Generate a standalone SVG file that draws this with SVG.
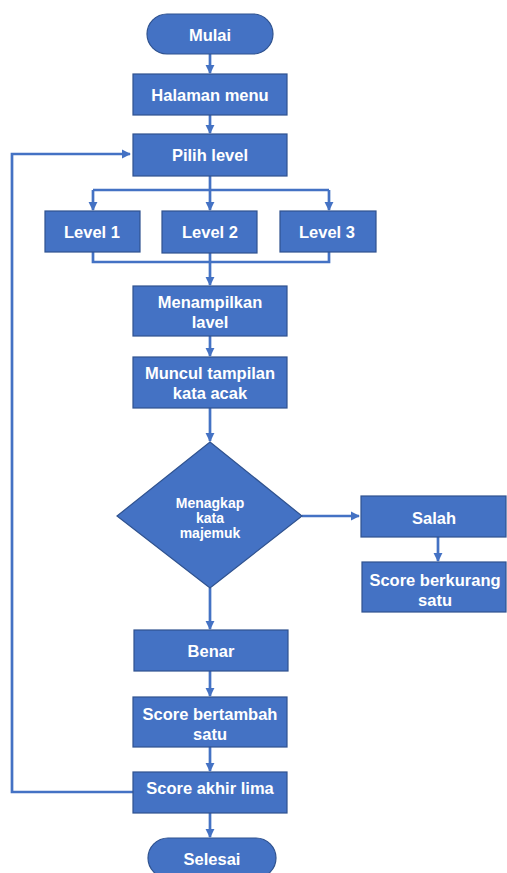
<svg xmlns="http://www.w3.org/2000/svg" width="507" height="873" viewBox="0 0 507 873">
<style>
.n{fill:#4472C4;stroke:#2F528F;stroke-width:1.2}
.t{fill:#fff;font-family:"Liberation Sans",Arial,sans-serif;font-weight:bold;font-size:16.5px;text-anchor:middle;dominant-baseline:central}
.s{font-size:14px}
.c{fill:none;stroke:#4472C4;stroke-width:2.7}
</style>
<defs>
<marker id="a" viewBox="0 0 10 10" refX="9" refY="5" markerWidth="3.4" markerHeight="3.4" orient="auto" markerUnits="strokeWidth">
<path d="M0,0L10,5L0,10z" fill="#4472C4"/>
</marker>
</defs>
<rect width="507" height="873" fill="#fff"/>
<g id="connectors">
<path class="c" d="M210,54V73" marker-end="url(#a)"/>
<path class="c" d="M210,115V133" marker-end="url(#a)"/>
<path class="c" d="M210,176V190"/>
<path class="c" d="M93,190H329"/>
<path class="c" d="M93,190V210" marker-end="url(#a)"/>
<path class="c" d="M210,190V210" marker-end="url(#a)"/>
<path class="c" d="M329,190V210" marker-end="url(#a)"/>
<path class="c" d="M93,252V262H329V252"/>
<path class="c" d="M210,253V285" marker-end="url(#a)"/>
<path class="c" d="M210,336V356" marker-end="url(#a)"/>
<path class="c" d="M210,408V441" marker-end="url(#a)"/>
<path class="c" d="M302,516H359" marker-end="url(#a)"/>
<path class="c" d="M438,537V561" marker-end="url(#a)"/>
<path class="c" d="M210,588V629" marker-end="url(#a)"/>
<path class="c" d="M210,671V696" marker-end="url(#a)"/>
<path class="c" d="M210,747V771" marker-end="url(#a)"/>
<path class="c" d="M210,813V837" marker-end="url(#a)"/>
<path class="c" d="M133,792H12V154H130" marker-end="url(#a)"/>
</g>
<g id="mulai"><rect class="n" x="147" y="14" width="126" height="40" rx="20"/><text class="t" x="210" y="35">Mulai</text></g>
<g id="halaman"><rect class="n" x="133" y="74" width="154" height="41"/><text class="t" x="210" y="95">Halaman menu</text></g>
<g id="pilih"><rect class="n" x="133" y="134" width="154" height="42"/><text class="t" x="210" y="155">Pilih level</text></g>
<g id="level1"><rect class="n" x="45" y="211" width="95" height="41"/><text class="t" x="92" y="232">Level 1</text></g>
<g id="level2"><rect class="n" x="162" y="211" width="95" height="42"/><text class="t" x="210" y="232">Level 2</text></g>
<g id="level3"><rect class="n" x="280" y="211" width="96" height="41"/><text class="t" x="327" y="232">Level 3</text></g>
<g id="menampilkan"><rect class="n" x="133" y="286" width="154" height="50"/><text class="t" x="210" y="302">Menampilkan</text><text class="t" x="210" y="322">lavel</text></g>
<g id="muncul"><rect class="n" x="133" y="357" width="154" height="51"/><text class="t" x="210" y="373">Muncul tampilan</text><text class="t" x="210" y="393">kata acak</text></g>
<g id="menangkap"><path class="n" d="M210,442L302,516L210,588L117,516Z"/><text class="t s" x="210" y="503">Menagkap</text><text class="t s" x="210" y="518">kata</text><text class="t s" x="210" y="533">majemuk</text></g>
<g id="salah"><rect class="n" x="361" y="496" width="145" height="41"/><text class="t" x="434" y="518">Salah</text></g>
<g id="berkurang"><rect class="n" x="362" y="562" width="144" height="50"/><text class="t" x="435" y="580">Score berkurang</text><text class="t" x="435" y="600">satu</text></g>
<g id="benar"><rect class="n" x="134" y="630" width="154" height="41"/><text class="t" x="211" y="651">Benar</text></g>
<g id="bertambah"><rect class="n" x="133" y="697" width="154" height="50"/><text class="t" x="210" y="714">Score bertambah</text><text class="t" x="210" y="734">satu</text></g>
<g id="akhir"><rect class="n" x="133" y="772" width="154" height="41"/><text class="t" x="210" y="788">Score akhir lima</text></g>
<g id="selesai"><rect class="n" x="148" y="838" width="128" height="40" rx="20"/><text class="t" x="212" y="859">Selesai</text></g>
</svg>
